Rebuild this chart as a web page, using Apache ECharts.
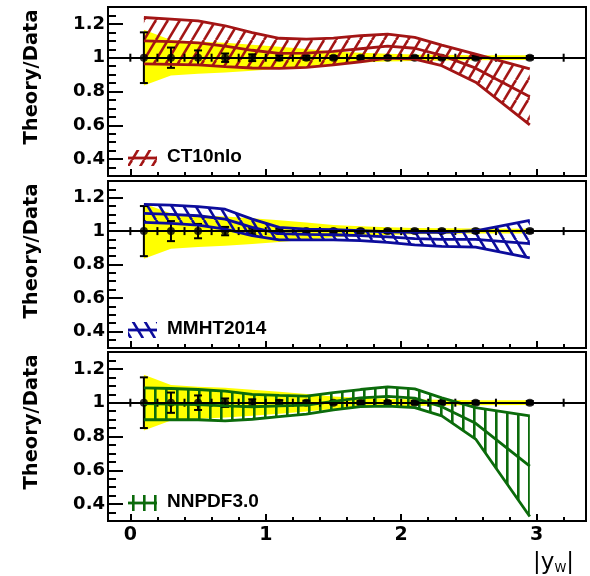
<!DOCTYPE html>
<html><head><meta charset="utf-8">
<script src="https://cdn.jsdelivr.net/npm/echarts@6.0.0/dist/echarts.min.js"></script>
<style>html,body{margin:0;padding:0;background:#fff;}#c{width:590px;height:576px;}</style>
</head><body><div id="c"></div>
<script>
// ---------------- data ----------------
const xCenters = [0.1,0.3,0.5,0.7,0.9,1.1,1.3,1.5,1.7,1.9,2.1,2.3,2.55,2.95];
const binEdges = [0,0.2,0.4,0.6,0.8,1.0,1.2,1.4,1.6,1.8,2.0,2.2,2.4,2.7,3.2];
const dataRatio = [1,1,1,1,1,1,1,1,1,1,1,1,1,1];
const dataErr = [0.15,0.06,0.043,0.025,0.02,0.015,0.012,0.01,0.01,0.01,0.01,0.01,0.01,0.01];
const dataUncHi = [1.165,1.105,1.095,1.088,1.077,1.065,1.052,1.037,1.029,1.023,1.019,1.017,1.015,1.014];
const dataUncLo = [0.835,0.895,0.905,0.912,0.923,0.935,0.948,0.963,0.971,0.977,0.981,0.983,0.985,0.986];

const ct10Hi  = [1.238,1.228,1.218,1.189,1.149,1.115,1.110,1.116,1.130,1.140,1.120,1.074,1.021,0.934];
const ct10Mid = [1.100,1.095,1.088,1.068,1.044,1.026,1.027,1.037,1.053,1.069,1.056,1.014,0.938,0.769];
const ct10Lo  = [0.963,0.961,0.957,0.947,0.939,0.937,0.943,0.957,0.976,0.997,0.992,0.953,0.855,0.603];

const mmhtHi  = [1.160,1.155,1.147,1.131,1.072,1.022,1.012,1.008,1.002,0.996,0.992,0.992,1.002,1.064];
const mmhtMid = [1.106,1.100,1.092,1.072,1.022,0.985,0.980,0.978,0.973,0.965,0.955,0.951,0.950,0.925];
const mmhtLo  = [1.052,1.046,1.036,1.012,0.973,0.947,0.947,0.947,0.943,0.933,0.917,0.909,0.904,0.840];

const nnpdfHi  = [1.088,1.084,1.078,1.068,1.049,1.043,1.039,1.059,1.078,1.094,1.082,1.029,0.971,0.922];
const nnpdfMid = [0.994,0.992,0.989,0.981,0.976,0.981,0.986,1.008,1.028,1.037,1.027,0.976,0.878,0.625];
const nnpdfLo  = [0.899,0.899,0.899,0.893,0.902,0.918,0.932,0.957,0.977,0.980,0.971,0.922,0.785,0.327];

const panelNames = ['CT10nlo','MMHT2014','NNPDF3.0'];
const xTickMajor = [0,1,2,3];
const xLabels = ['0','1','2','3'];
const xTickMinor = [0.2,0.4,0.6,0.8,1.2,1.4,1.6,1.8,2.2,2.4,2.6,2.8,3.2];
const yTickMajor = [0.4,0.6,0.8,1,1.2];
const yLabels = ['0.4','0.6','0.8','1','1.2'];
const yTickMinor = [0.35,0.45,0.5,0.55,0.65,0.7,0.75,0.85,0.9,0.95,1.05,1.1,1.15,1.25];
const yTitle = 'Theory/Data';

// ---------------- layout / style ----------------
const X_MIN = -0.165, X_MAX = 3.365, Y_MIN = 0.3, Y_MAX = 1.3;
const panelTop = [7,181,352];
const panelH = [169,167,169];
const GRID_LEFT = 108, GRID_RIGHT = 4;

function hatchCanvas(kind, color) {
  const c = document.createElement('canvas');
  let w, h;
  if (kind === 'vert') { w = 11; h = 11; } else { w = 12; h = 20; }
  c.width = w; c.height = h;
  const g = c.getContext('2d');
  g.strokeStyle = color; g.fillStyle = color; g.lineWidth = 2.6;
  if (kind === 'vert') {
    g.fillRect(0, 0, 2.6, h);
  } else {
    for (const dx of [-w, 0, w]) {
      g.beginPath();
      if (kind === 'fwd') { g.moveTo(dx, h); g.lineTo(dx + w, 0); }
      else { g.moveTo(dx, 0); g.lineTo(dx + w, h); }
      g.stroke();
    }
  }
  return {image: c, repeat: 'repeat'};
}

const theories = [
  {hi: ct10Hi, mid: ct10Mid, lo: ct10Lo, color: '#a31515', hatch: 'fwd'},
  {hi: mmhtHi, mid: mmhtMid, lo: mmhtLo, color: '#0c0c9c', hatch: 'back'},
  {hi: nnpdfHi, mid: nnpdfMid, lo: nnpdfLo, color: '#0b6b0b', hatch: 'vert'}
];

function labelFor(list, labels) {
  return function (v) {
    for (let i = 0; i < list.length; i++) if (Math.abs(list[i] - v) < 1e-9) return labels[i];
    return '';
  };
}

function bandRender(lo, hi, fill) {
  return function (params, api) {
    if (params.dataIndex !== 0) return;
    const pts = [];
    for (let i = 0; i < xCenters.length; i++) pts.push(api.coord([xCenters[i], hi[i]]));
    for (let i = xCenters.length - 1; i >= 0; i--) pts.push(api.coord([xCenters[i], lo[i]]));
    return {type: 'polygon', shape: {points: pts}, style: {fill: fill}};
  };
}

const option = {animation: false, backgroundColor: '#fff', grid: [], xAxis: [], yAxis: [], series: [], graphic: []};

theories.forEach(function (th, gi) {
  const pattern = hatchCanvas(th.hatch, th.color);
  option.grid.push({left: GRID_LEFT, right: GRID_RIGHT, top: panelTop[gi], height: panelH[gi],
    show: true, borderColor: '#000', borderWidth: 2, backgroundColor: 'transparent'});
  option.xAxis.push({gridIndex: gi, type: 'value', position: 'bottom', min: X_MIN, max: X_MAX,
    axisLine: {show: false, onZero: false}, splitLine: {show: false},
    axisTick: {show: true, inside: true, length: 7, customValues: xTickMajor, lineStyle: {color: '#000', width: 2}},
    axisLabel: {show: gi === 2, customValues: xTickMajor, formatter: labelFor(xTickMajor, xLabels), margin: 5,
      fontFamily: 'DejaVu Sans', fontWeight: 'bold', fontSize: 19, color: '#000'}});
  option.xAxis.push({gridIndex: gi, type: 'value', position: 'bottom', min: X_MIN, max: X_MAX,
    axisLine: {show: false, onZero: false}, splitLine: {show: false},
    axisTick: {show: true, inside: true, length: 4, customValues: xTickMinor, lineStyle: {color: '#000', width: 2}},
    axisLabel: {show: false}});
  option.yAxis.push({gridIndex: gi, type: 'value', position: 'left', min: Y_MIN, max: Y_MAX,
    axisLine: {show: false, onZero: false}, splitLine: {show: false},
    axisTick: {show: true, inside: true, length: 15, customValues: yTickMajor, lineStyle: {color: '#000', width: 2}},
    axisLabel: {show: true, customValues: yTickMajor, formatter: labelFor(yTickMajor, yLabels), margin: 3,
      fontFamily: 'DejaVu Sans', fontWeight: 'bold', fontSize: 18, color: '#000'}});
  option.yAxis.push({gridIndex: gi, type: 'value', position: 'left', min: Y_MIN, max: Y_MAX,
    axisLine: {show: false, onZero: false}, splitLine: {show: false},
    axisTick: {show: true, inside: true, length: 8, customValues: yTickMinor, lineStyle: {color: '#000', width: 2}},
    axisLabel: {show: false}});

  const xi = 2 * gi, yi = 2 * gi;
  option.series.push({type: 'custom', xAxisIndex: xi, yAxisIndex: yi, silent: true,
    data: xCenters.map((x, i) => [x, dataUncLo[i], dataUncHi[i]]), encode: {x: 0, y: [1, 2]},
    renderItem: bandRender(dataUncLo, dataUncHi, '#ffff00')});
  option.series.push({type: 'custom', xAxisIndex: xi, yAxisIndex: yi, silent: true,
    data: xCenters.map((x, i) => [x, th.lo[i], th.hi[i]]), encode: {x: 0, y: [1, 2]},
    renderItem: bandRender(th.lo, th.hi, pattern)});
  [th.hi, th.mid, th.lo].forEach(function (arr) {
    option.series.push({type: 'line', xAxisIndex: xi, yAxisIndex: yi, silent: true, showSymbol: false,
      symbol: 'none', data: xCenters.map((x, i) => [x, arr[i]]),
      lineStyle: {color: th.color, width: 2.8}});
  });
  option.series.push({type: 'custom', xAxisIndex: xi, yAxisIndex: yi, silent: true,
    data: binEdges.map(e => [e, 1]),
    renderItem: function (params, api) {
      const p = api.coord([api.value(0), api.value(1)]);
      return {type: 'line', shape: {x1: p[0], y1: p[1] - 4, x2: p[0], y2: p[1] + 4}, style: {stroke: '#000', lineWidth: 2}};
    },
    markLine: {silent: true, symbol: ['none', 'none'], label: {show: false},
      lineStyle: {color: '#000', width: 2, type: 'solid'}, data: [{yAxis: 1}]}});
  option.series.push({type: 'custom', xAxisIndex: xi, yAxisIndex: yi, silent: true,
    data: xCenters.map((x, i) => [x, dataRatio[i] - dataErr[i], dataRatio[i] + dataErr[i]]), encode: {x: 0, y: [1, 2]},
    renderItem: function (params, api) {
      const x = api.value(0);
      const pL = api.coord([x, api.value(1)]), pH = api.coord([x, api.value(2)]);
      const cw = 4, st = {stroke: '#000', lineWidth: 2};
      return {type: 'group', children: [
        {type: 'line', shape: {x1: pL[0], y1: pL[1], x2: pH[0], y2: pH[1]}, style: st},
        {type: 'line', shape: {x1: pL[0] - cw, y1: pL[1], x2: pL[0] + cw, y2: pL[1]}, style: st},
        {type: 'line', shape: {x1: pH[0] - cw, y1: pH[1], x2: pH[0] + cw, y2: pH[1]}, style: st}
      ]};
    }});
  option.series.push({type: 'scatter', xAxisIndex: xi, yAxisIndex: yi, silent: true,
    data: xCenters.map((x, i) => [x, dataRatio[i]]), symbol: 'circle', symbolSize: 8,
    itemStyle: {color: '#000'}});

  option.graphic.push({type: 'text', x: 32, y: panelTop[gi] + 70, rotation: Math.PI / 2, silent: true,
    style: {text: yTitle, font: 'bold 19.5px "DejaVu Sans"', fill: '#000',
      textAlign: 'center', textVerticalAlign: 'middle', align: 'center', verticalAlign: 'middle'}});
  const ly = panelTop[gi] + panelH[gi] - 18;
  option.graphic.push({type: 'rect', silent: true, shape: {x: 128, y: ly - 8, width: 29, height: 16},
    style: {fill: pattern}});
  option.graphic.push({type: 'line', silent: true, shape: {x1: 128, y1: ly, x2: 157, y2: ly},
    style: {stroke: th.color, lineWidth: 2.8}});
  option.graphic.push({type: 'text', silent: true, x: 167, y: ly - 1,
    style: {text: panelNames[gi], font: 'bold 19px "Liberation Sans"', fill: '#000',
      textAlign: 'left', textVerticalAlign: 'middle', align: 'left', verticalAlign: 'middle'}});
});

option.graphic.push({type: 'text', silent: true, x: 574, y: 575,
  style: {text: '{a||y}{b|W}{a||}', fill: '#000', textAlign: 'right', textVerticalAlign: 'bottom', align: 'right', verticalAlign: 'bottom',
    rich: {a: {fontFamily: 'DejaVu Sans', fontSize: 23, fill: '#000', color: '#000'},
           b: {fontFamily: 'DejaVu Sans', fontSize: 12, fill: '#000', color: '#000', verticalAlign: 'bottom'}}}});

const chart = echarts.init(document.getElementById('c'), null, {renderer: 'canvas', width: 590, height: 576});
chart.setOption(option);
</script>
</body></html>
